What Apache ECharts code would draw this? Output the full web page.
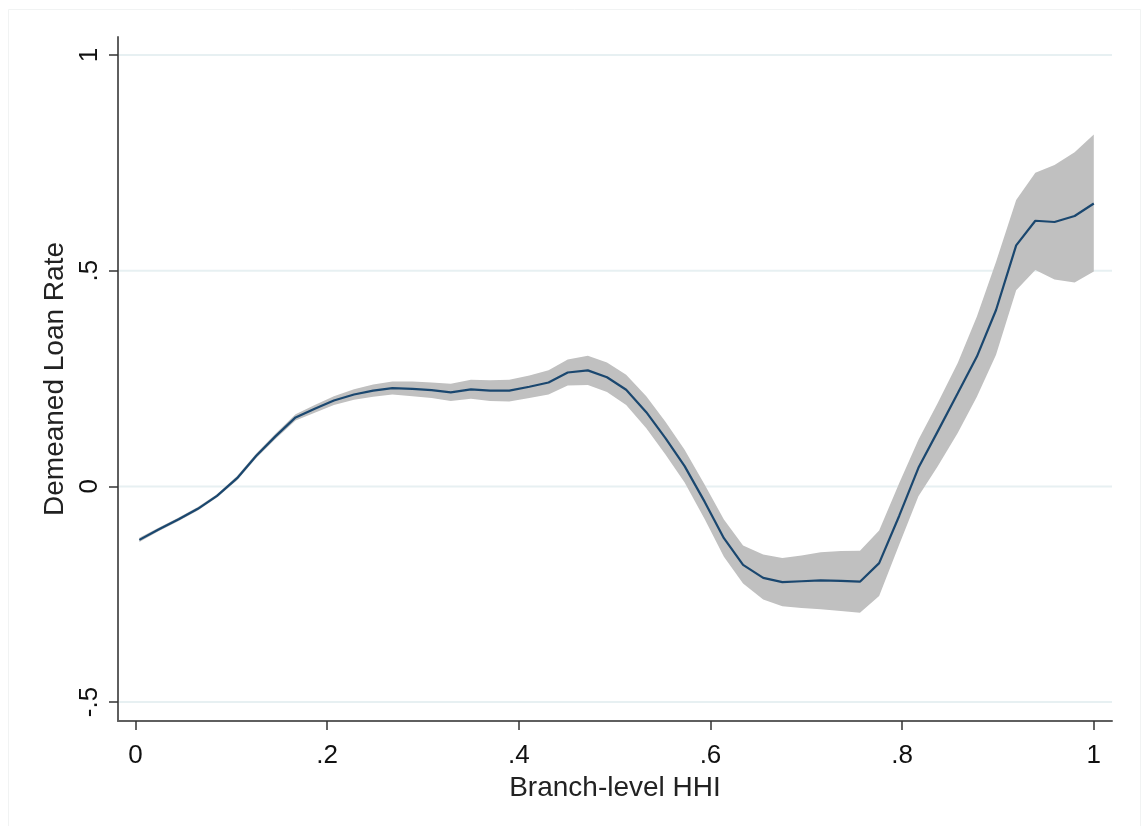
<!DOCTYPE html>
<html>
<head>
<meta charset="utf-8">
<script src="https://cdn.jsdelivr.net/npm/echarts@6/dist/echarts.min.js"></script>
<style>
html,body{margin:0;padding:0;background:#fff;}
#chart{width:1141px;height:826px;}
</style>
</head>
<body>
<div id="chart"></div>
<script>
// HHI grid points
var hhi = [0.004,0.024,0.045,0.065,0.085,0.106,0.126,0.146,0.167,0.187,
           0.207,0.228,0.248,0.268,0.289,0.309,0.329,0.350,0.370,0.390,
           0.411,0.431,0.451,0.472,0.492,0.512,0.533,0.553,0.573,0.594,
           0.614,0.634,0.655,0.675,0.695,0.715,0.736,0.756,0.776,0.797,
           0.817,0.837,0.858,0.878,0.898,0.919,0.939,0.959,0.980,1.000];
// fitted demeaned loan rate
var fit = [-0.124,-0.100,-0.076,-0.052,-0.022,0.019,0.071,0.116,0.160,0.180,
           0.199,0.213,0.222,0.228,0.226,0.223,0.218,0.225,0.222,0.222,
           0.231,0.241,0.264,0.269,0.253,0.224,0.172,0.112,0.047,-0.036,
           -0.120,-0.182,-0.212,-0.222,-0.220,-0.218,-0.219,-0.221,-0.178,-0.068,
           0.043,0.127,0.216,0.301,0.409,0.559,0.616,0.613,0.627,0.656];
// upper confidence bound
var upper = [-0.119,-0.096,-0.072,-0.048,-0.018,0.024,0.076,0.122,0.167,0.189,
             0.209,0.225,0.236,0.243,0.243,0.241,0.238,0.247,0.246,0.247,
             0.257,0.269,0.294,0.303,0.287,0.259,0.209,0.150,0.085,0.004,
             -0.077,-0.137,-0.158,-0.166,-0.160,-0.153,-0.150,-0.149,-0.102,0.008,
             0.108,0.193,0.286,0.394,0.521,0.664,0.727,0.745,0.775,0.816];
// lower confidence bound
var lower = [-0.129,-0.104,-0.080,-0.056,-0.026,0.014,0.066,0.110,0.153,0.171,
             0.189,0.201,0.208,0.213,0.209,0.205,0.198,0.203,0.198,0.197,
             0.205,0.213,0.234,0.235,0.219,0.189,0.135,0.074,0.009,-0.076,
             -0.163,-0.225,-0.262,-0.278,-0.282,-0.285,-0.289,-0.293,-0.254,-0.135,
             -0.023,0.046,0.124,0.208,0.305,0.455,0.502,0.480,0.473,0.498];
var xTicks = [0,0.2,0.4,0.6,0.8,1];
var xTickLabels = ['0','.2','.4','.6','.8','1'];
var yTicks = [-0.5,0,0.5,1];
var yTickLabels = ['-.5','0','.5','1'];

function fmt(v, ticks, labels){
  for (var i=0;i<ticks.length;i++){ if (Math.abs(v-ticks[i])<1e-6) return labels[i]; }
  return '';
}

var chart = echarts.init(document.getElementById('chart'), null, {renderer:'canvas'});
var font = 'Liberation Sans, Arial, sans-serif';

var lineData = hhi.map(function(x,i){return [x, fit[i]];});

var option = {
  animation:false,
  backgroundColor:'#ffffff',
  graphic:[{
    type:'rect', left:6, top:7, shape:{width:1132, height:830},
    style:{fill:null, stroke:'#f1f3f3', lineWidth:1}, silent:true, z:-10
  }],
  grid:{left:118, right:29, top:37, bottom:105, containLabel:false},
  xAxis:{
    type:'value', min:-0.0183, max:1.019,
    name:'Branch-level HHI', nameLocation:'middle', nameGap:51,
    nameTextStyle:{fontFamily:font, fontSize:28, color:'#222'},
    axisLine:{show:true, onZero:false, lineStyle:{color:'#5f5f5f', width:2}},
    axisTick:{show:true, length:9, lineStyle:{color:'#333', width:1.5},
      customValues:xTicks},
    axisLabel:{fontFamily:font, fontSize:26, color:'#111', margin:22,
      customValues:xTicks,
      formatter:function(v){return fmt(v,xTicks,xTickLabels);}},
    splitLine:{show:false}
  },
  yAxis:{
    type:'value', min:-0.544, max:1.042,
    name:'Demeaned Loan Rate', nameLocation:'middle', nameGap:47,
    nameRotate:90,
    nameTextStyle:{fontFamily:font, fontSize:28, color:'#222'},
    axisLine:{show:true, onZero:false, lineStyle:{color:'#5f5f5f', width:2}},
    axisTick:{show:true, length:9, lineStyle:{color:'#333', width:1.5},
      customValues:yTicks},
    axisLabel:{fontFamily:font, fontSize:26, color:'#111', margin:15, rotate:90,
      customValues:yTicks,
      formatter:function(v){return fmt(v,yTicks,yTickLabels);}},
    splitLine:{show:false}
  },
  series:[
    {
      type:'custom', name:'grid', silent:true, z:1,
      data:yTicks.map(function(t){return [0,t];}),
      encode:{x:0,y:1},
      renderItem:function(params, api){
        var y = api.value(1);
        var p1 = api.coord([-0.0183, y]);
        var p2 = api.coord([1.019, y]);
        return {type:'line', shape:{x1:p1[0]+1, y1:p1[1], x2:p2[0], y2:p2[1]},
          style:{stroke:'#e7f0f2', lineWidth:2}};
      }
    },
    {
      type:'custom', name:'CI', silent:true, z:2,
      data:[0],
      renderItem:function(params, api){
        var pts = [];
        for (var i=0;i<hhi.length;i++) pts.push(api.coord([hhi[i], upper[i]]));
        for (var j=hhi.length-1;j>=0;j--) pts.push(api.coord([hhi[j], lower[j]]));
        return {type:'polygon', shape:{points:pts},
          style:{fill:'#c0c0c0', stroke:null}};
      }
    },
    {
      type:'line', name:'fit', data:lineData, z:3,
      showSymbol:false, symbol:'none', smooth:false,
      lineStyle:{color:'#1a476f', width:2.2}
    }
  ]
};
chart.setOption(option);
</script>
</body>
</html>
